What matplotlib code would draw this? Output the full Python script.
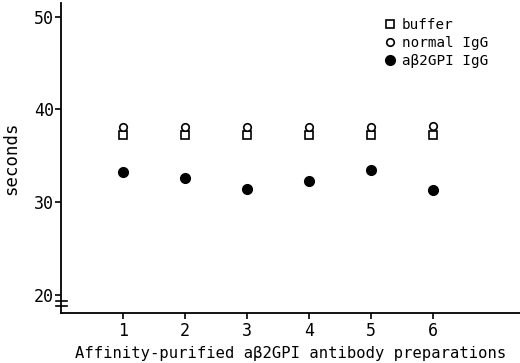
import numpy as np
import matplotlib.pyplot as plt
from matplotlib.transforms import blended_transform_factory

# Clotting times (seconds) for each antibody preparation
preps = [1, 2, 3, 4, 5, 6]
buffer_s = [37.2, 37.2, 37.2, 37.2, 37.2, 37.25]
normal_igg = [38.15, 38.15, 38.15, 38.15, 38.15, 38.2]
ab2gpi_igg = [33.25, 32.65, 31.4, 32.35, 33.45, 31.3]

xtick_labels = ['1', '2', '3', '4', '5', '6']
ytick_vals = [20, 30, 40, 50]

plt.rcParams['font.family'] = ['DejaVu Sans Mono']

fig = plt.figure(figsize=(5.2, 3.63), dpi=100)
ax = fig.add_axes([0.1173, 0.1386, 0.8827, 0.853])

ax.plot(preps, buffer_s, ls='none', marker='s', ms=5.6, mfc='white',
        mec='black', mew=1.2, label='buffer')
ax.plot(preps, normal_igg, ls='none', marker='o', ms=5.4, mfc='white',
        mec='black', mew=1.2, label='normal IgG')
ax.plot(preps, ab2gpi_igg, ls='none', marker='o', ms=7, mfc='black',
        mec='black', label='aβ2GPI IgG')

ax.set_xlim(0, 7.4)
ax.set_ylim(18.13, 51.45)
ax.set_xticks(preps)
ax.set_xticklabels(xtick_labels)
ax.set_yticks(ytick_vals)

for side in ['top', 'right']:
    ax.spines[side].set_visible(False)
for side in ['left', 'bottom']:
    ax.spines[side].set_linewidth(1.3)
ax.tick_params(direction='out', length=4, width=1.2, labelsize=12)
ax.tick_params(axis='y', pad=1)
ax.tick_params(axis='x', pad=3)

ax.set_xlabel('Affinity-purified aβ2GPI antibody preparations', fontsize=11.2, labelpad=4)
ax.set_ylabel('seconds', fontsize=12.5)
ax.yaxis.set_label_coords(-0.088, 0.5)

# axis break marks
trans = blended_transform_factory(ax.transAxes, ax.transData)
for yb in [19.43, 18.8]:
    ax.plot([-0.0115, 0.0124], [yb, yb], color='black', lw=1.2,
            transform=trans, clip_on=False)

ax.legend(loc='upper left', bbox_to_anchor=(0.705, 0.952), frameon=False,
          fontsize=10.3, numpoints=1, handlelength=0.8, handletextpad=0.4,
          labelspacing=0.3, borderpad=0, borderaxespad=0)

fig.savefig('out.png', dpi=100)
